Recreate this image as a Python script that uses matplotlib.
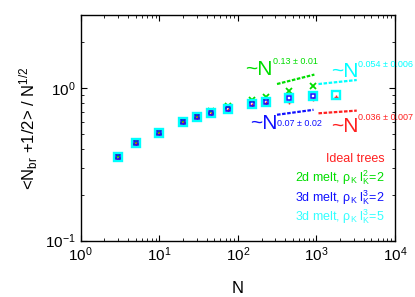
import numpy as np
import matplotlib
matplotlib.use('Agg')
import matplotlib.pyplot as plt

plt.rcParams['font.family'] = ['Liberation Sans', 'DejaVu Sans']
plt.rcParams['mathtext.fontset'] = 'custom'
plt.rcParams['mathtext.rm'] = 'Liberation Sans'
plt.rcParams['mathtext.it'] = 'Liberation Sans:italic'
plt.rcParams['mathtext.default'] = 'regular'

# data
N_all = [3, 5, 10, 20, 30, 45, 75, 150, 225, 450, 900, 1800]
cyan_y = [0.351, 0.436, 0.507, 0.594, 0.641, 0.681, 0.732, 0.785, 0.812, 0.855, 0.885, 0.899]
blue_y = [0.351, 0.436, 0.507, 0.594, 0.641, 0.681, 0.732, 0.785, 0.812, 0.855, 0.885]
green_y = [0.358, 0.445, 0.515, 0.605, 0.655, 0.705, 0.76, 0.834, 0.877, 0.951, 1.035]
red_y = [0.345, 0.43, 0.50, 0.585, 0.632, 0.672, 0.722, 0.772, 0.80, 0.81, 0.842, 0.868]

# power law fits: exponent, N start, N end, value at N start
fit_exp = {'green': 0.13, 'blue': 0.07, 'cyan': 0.054, 'red': 0.036}
fit_n0 = {'green': 315, 'blue': 315, 'cyan': 1062, 'red': 1062}
fit_n1 = {'green': 942, 'blue': 918, 'cyan': 3260, 'red': 3260}
fit_y0 = {'green': 1.06, 'blue': 0.667, 'cyan': 1.06, 'red': 0.682}
fit_lbl = {'green': '0.13 \u00b1 0.01', 'blue': '0.07 \u00b1 0.02',
           'cyan': '0.054 \u00b1 0.006', 'red': '0.036 \u00b1 0.007'}

legend_lbl = ['Ideal trees', '2d melt, $\\rho_K\\ l_K^2$=2',
              '3d melt, $\\rho_K\\ l_K^3$=2', '3d melt, $\\rho_K\\ l_K^3$=5']

col = {'red': '#ff2020', 'green': '#00dd00', 'blue': '#1010ff', 'cyan': '#00ffff'}

fig = plt.figure(figsize=(4.15, 2.97), dpi=100)
ax = fig.add_axes([0.1945, 0.1896, 0.7573, 0.7599])
ax.set_xscale('log')
ax.set_yscale('log')

ax.plot(N_all[:len(green_y)], green_y, 'x', color=col['green'], ms=4, mew=1.3, zorder=2)
ax.plot(N_all, red_y, '+', color=col['red'], ms=3, mew=1.0, zorder=2)
ax.plot(N_all, cyan_y, 's', mfc='none', mec=col['cyan'], ms=5.5, mew=1.7, zorder=3)
ax.plot(N_all[:len(blue_y)], blue_y, 's', mfc='none', mec=col['blue'], ms=2.8, mew=1.1, zorder=4)

for k in ['green', 'blue', 'cyan', 'red']:
    nn = np.array([fit_n0[k], fit_n1[k]])
    yy = fit_y0[k] * (nn / fit_n0[k]) ** fit_exp[k]
    ax.plot(nn, yy, color=col[k], lw=1.6, ls=(0, (1.6, 0.7)), zorder=2)

# ~N annotations
tpos = {'green': (123, 1.218), 'blue': (142.6, 0.537), 'cyan': (1561, 1.187), 'red': (1561, 0.511)}
spos = {'green': (280, 1.439), 'blue': (312, 0.564), 'cyan': (3404, 1.368), 'red': (3404, 0.618)}
for k in tpos:
    ax.text(tpos[k][0], tpos[k][1], '~N', color=col[k], fontsize=15, ha='left', va='baseline')
    ax.text(spos[k][0], spos[k][1], fit_lbl[k], color=col[k], fontsize=6.5, ha='left', va='baseline',
            clip_on=False)

lcols = [col['red'], col['green'], col['blue'], '#33ffff']
ly = [0.327, 0.243, 0.181, 0.135]
for t, c, yv in zip(legend_lbl, lcols, ly):
    ax.text(7450, yv, t, color=c, fontsize=9, ha='right', va='baseline')

ax.set_xlim(1, 1e4)
ax.set_ylim(0.1, 3)
ax.set_xlabel('N', fontsize=12, labelpad=12)
ax.set_ylabel('<N$_{br}$ +1/2> / N$^{1/2}$', fontsize=12, labelpad=4)
ax.tick_params(which='both', direction='in', top=True, right=True, labelsize=11)
ax.tick_params(which='major', length=4.5, width=0.8)
ax.tick_params(which='minor', length=2.5, width=0.6)
ax.set_yticks([0.1, 1])
for s in ax.spines.values():
    s.set_linewidth(1.0)

fig.savefig('out.png', dpi=100)
